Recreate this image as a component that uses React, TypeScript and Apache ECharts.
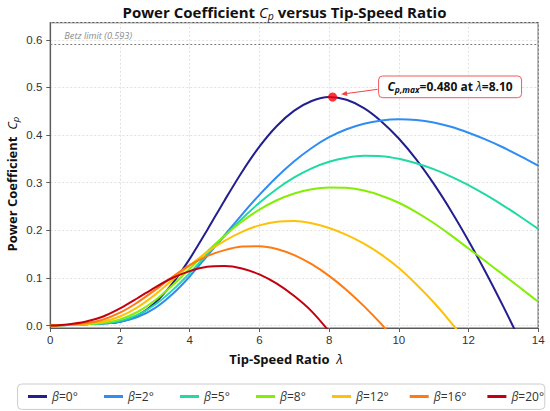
import React, { useEffect, useRef } from "react";
import * as echarts from "echarts";

// ---------------- data ----------------
const lambdas = [0, 0.5, 1, 1.5, 2, 2.5, 3, 3.5, 4, 4.5, 5, 5.5, 6, 6.5, 7, 7.5, 8, 8.5, 9, 9.5, 10, 10.5, 11, 11.5, 12, 12.5, 13, 13.5, 14];
const betas = [0, 2, 5, 8, 12, 16, 20];

const cpBeta0 = [0, 0.0014, 0.0028, 0.0043, 0.0081, 0.0211, 0.0475, 0.0882, 0.1402, 0.2003, 0.2629, 0.3227, 0.3757, 0.4191, 0.4513, 0.4715, 0.4799, 0.4741, 0.4566, 0.4287, 0.3928, 0.349, 0.298, 0.2408, 0.1782, 0.111, 0.0398, -0.0346, null];
const cpBeta2 = [0, 0.0014, 0.0028, 0.0043, 0.0082, 0.0178, 0.0366, 0.0658, 0.1032, 0.1462, 0.1897, 0.2332, 0.2745, 0.3121, 0.3451, 0.373, 0.3956, 0.4123, 0.424, 0.4308, 0.4333, 0.4318, 0.4265, 0.4175, 0.405, 0.3905, 0.374, 0.3555, 0.336];
const cpBeta5 = [0, 0.0014, 0.0028, 0.0046, 0.01, 0.0223, 0.0437, 0.074, 0.1103, 0.1499, 0.188, 0.2245, 0.2579, 0.2869, 0.3111, 0.3302, 0.344, 0.3525, 0.3565, 0.3558, 0.3503, 0.341, 0.3285, 0.313, 0.295, 0.2743, 0.252, 0.2281, 0.203];
const cpBeta8 = [0, 0.0014, 0.0029, 0.0055, 0.0131, 0.0286, 0.0527, 0.0842, 0.1194, 0.1558, 0.1887, 0.2185, 0.2435, 0.2632, 0.2775, 0.2865, 0.2902, 0.2893, 0.2835, 0.2728, 0.258, 0.2385, 0.2155, 0.1895, 0.162, 0.1345, 0.1065, 0.0785, 0.05];
const cpBeta12 = [0, 0.0014, 0.0034, 0.008, 0.0192, 0.0384, 0.0646, 0.0955, 0.1262, 0.1545, 0.178, 0.197, 0.2105, 0.218, 0.2195, 0.2148, 0.205, 0.1905, 0.172, 0.149, 0.121, 0.087, 0.049, 0.0065, -0.04, null, null, null, null];
const cpBeta16 = [0, 0.0016, 0.0048, 0.0124, 0.0272, 0.0486, 0.0745, 0.1021, 0.127, 0.146, 0.1585, 0.166, 0.1668, 0.161, 0.148, 0.129, 0.1045, 0.075, 0.041, 0.003, -0.04, null, null, null, null, null, null, null, null];
const cpBeta20 = [0, 0.0025, 0.008, 0.0185, 0.036, 0.0575, 0.08, 0.1, 0.1145, 0.1235, 0.125, 0.12, 0.1075, 0.088, 0.062, 0.03, -0.012, null, null, null, null, null, null, null, null, null, null, null, null];

const cpSeries = [cpBeta0, cpBeta2, cpBeta5, cpBeta8, cpBeta12, cpBeta16, cpBeta20];
const colors = ["#241f8e", "#2f8cf4", "#1fdaa2", "#84ee05", "#ffc107", "#ff7a10", "#c3000f"];

const betzLimit = 0.593;
const cpMax = 0.48;
const lambdaOpt = 8.1;

const FONT = "'Open Sans', 'Noto Sans', sans-serif";
const TICK_FONT = "'Liberation Sans', Arial, sans-serif";

export default function App() {
  const ref = useRef<HTMLDivElement>(null);

  useEffect(() => {
    if (!ref.current) return;
    const chart = echarts.init(ref.current, null, { renderer: "svg" });

    const series: any[] = cpSeries.map((vals, i) => ({
      name: `β=${betas[i]}°`,
      type: "line",
      data: lambdas
        .map((l, j) => [l, vals[j]])
        .filter((d) => d[1] !== null),
      smooth: 0.3,
      showSymbol: false,
      symbol: "none",
      clip: true,
      lineStyle: { width: 2, color: colors[i] },
      itemStyle: { color: colors[i] },
      z: 3 + i,
    }));

    series[0].markLine = {
      silent: true,
      symbol: ["none", "none"],
      label: { show: false },
      lineStyle: { color: "#7a7a7a", type: [2, 2], width: 1.1 },
      data: [{ yAxis: betzLimit }],
    };

    series.push({
      name: "peak",
      type: "scatter",
      data: [[lambdaOpt, cpMax]],
      symbolSize: 9,
      itemStyle: { color: "#ff0000" },
      z: 20,
    });

    const axisLineStyle = { color: "#5a5a5a", width: 1.2 };
    const splitLineStyle = { color: "#d9d9d9", type: [2, 2], width: 0.8 };

    chart.setOption({
      animation: false,
      backgroundColor: "#ffffff",
      grid: {
        left: 50.3,
        right: 11.8,
        top: 22.7,
        bottom: 83,
        show: true,
        borderColor: "#5a5a5a",
        borderWidth: 1.2,
      },
      xAxis: {
        type: "value",
        min: 0,
        max: 14,
        interval: 2,
        axisLine: { show: true, onZero: false, lineStyle: axisLineStyle },
        axisTick: { show: true, length: 4, lineStyle: { color: "#5a5a5a" } },
        axisLabel: { color: "#333", fontSize: 11.5, fontFamily: TICK_FONT, margin: 6 },
        splitLine: { show: true, lineStyle: splitLineStyle },
      },
      yAxis: {
        type: "value",
        min: -0.005,
        max: 0.636,
        splitNumber: 5,
        axisLine: { show: true, onZero: false, lineStyle: axisLineStyle },
        axisTick: { show: true, length: 4, lineStyle: { color: "#5a5a5a" } },
        axisLabel: {
          color: "#333",
          fontSize: 11.5,
          fontFamily: TICK_FONT,
          margin: 8,
          showMinLabel: false,
          showMaxLabel: false,
          formatter: (v: number) => v.toFixed(1),
        },
        splitLine: { show: true, lineStyle: splitLineStyle },
      },
      legend: {
        data: betas.map((b) => `β=${b}°`),
        left: 28,
        top: 389,
        z: 10,
        orient: "horizontal",
        icon: "rect",
        itemWidth: 19,
        itemHeight: 3,
        itemGap: 21,
        selectedMode: false,
        padding: 0,
        formatter: (name: string) => `{i|β}{n|${name.slice(1)}}`,
        textStyle: {
          width: 31,
          lineHeight: 15,
          fontSize: 12,
          color: "#333",
          fontFamily: FONT,
          rich: {
            i: { fontStyle: "italic", fontSize: 12, fontFamily: FONT, color: "#333" },
            n: { fontSize: 12, fontFamily: FONT, color: "#333" },
          },
        },
      },
      series,
    });

    const p = chart.convertToPixel({ gridIndex: 0 }, [lambdaOpt, cpMax]) as number[];
    const bz = chart.convertToPixel({ gridIndex: 0 }, [0, betzLimit]) as number[];

    const s = [p[0] + 45, p[1] - 7.7];
    const t = [p[0] + 8.5, p[1] - 2.7];
    const dx = t[0] - s[0];
    const dy = t[1] - s[1];
    const len = Math.sqrt(dx * dx + dy * dy);
    const ux = dx / len;
    const uy = dy / len;
    const hl = 6;
    const hw = 2.6;
    const base = [t[0] - ux * hl, t[1] - uy * hl];
    const arrowColor = "#f04444";

    const boxX = p[0] + 46;
    const boxY = p[1] - 21;
    const boxW = 143;
    const boxH = 21.7;

    const bold = (size: number, extra: any = {}) => ({
      fontFamily: FONT,
      fontWeight: "bold",
      fontSize: size,
      fill: "#111",
      ...extra,
    });

    chart.setOption({
      graphic: [
        {
          type: "rect",
          z: -1,
          silent: true,
          shape: { x: 17.6, y: 384, width: 527.2, height: 25.4, r: 4 },
          style: { fill: "none", stroke: "#cccccc", lineWidth: 1 },
        },
        {
          type: "text",
          x: 284.5,
          y: 12,
          z: 50,
          style: {
            text: "{b|Power Coefficient }{c|C}{s|p}{b| versus Tip-Speed Ratio}",
            align: "center",
            verticalAlign: "middle",
            rich: {
              b: bold(15, { lineHeight: 18 }),
              c: { fontFamily: FONT, fontStyle: "italic", fontSize: 15, fill: "#111", lineHeight: 18 },
              s: { fontFamily: FONT, fontStyle: "italic", fontSize: 10.5, fill: "#111", lineHeight: 10, verticalAlign: "bottom" },
            },
          },
        },
        {
          type: "text",
          x: 12,
          y: 184,
          rotation: Math.PI / 2,
          z: 50,
          style: {
            text: "{b|Power Coefficient  }{c|C}{s|p}",
            align: "center",
            verticalAlign: "middle",
            rich: {
              b: bold(13, { lineHeight: 16 }),
              c: { fontFamily: FONT, fontStyle: "italic", fontSize: 13, fill: "#111", lineHeight: 16 },
              s: { fontFamily: FONT, fontStyle: "italic", fontSize: 9.5, fill: "#111", lineHeight: 9, verticalAlign: "bottom" },
            },
          },
        },
        {
          type: "text",
          x: 286,
          y: 359,
          z: 50,
          style: {
            text: "{b|Tip-Speed Ratio  }{l|λ}",
            align: "center",
            verticalAlign: "middle",
            rich: {
              b: bold(13, { lineHeight: 16 }),
              l: { fontFamily: FONT, fontStyle: "italic", fontSize: 13, fill: "#111", lineHeight: 16 },
            },
          },
        },
        {
          type: "text",
          x: bz[0] + 14,
          y: bz[1] - 7.8,
          z: 50,
          style: {
            text: `Betz limit (${betzLimit.toFixed(3)})`,
            fontFamily: FONT,
            fontStyle: "italic",
            fontSize: 9.2,
            fill: "#8a8a8a",
            align: "left",
            verticalAlign: "middle",
          },
        },
        {
          type: "line",
          z: 40,
          shape: { x1: s[0], y1: s[1], x2: base[0], y2: base[1] },
          style: { stroke: arrowColor, lineWidth: 1 },
        },
        {
          type: "polygon",
          z: 40,
          shape: {
            points: [
              [t[0], t[1]],
              [base[0] - uy * hw, base[1] + ux * hw],
              [base[0] + uy * hw, base[1] - ux * hw],
            ],
          },
          style: { fill: arrowColor },
        },
        {
          type: "rect",
          z: 41,
          shape: { x: boxX, y: boxY, width: boxW, height: boxH, r: 4 },
          style: { fill: "#ffffff", stroke: "#f05a5a", lineWidth: 1 },
        },
        {
          type: "text",
          z: 42,
          x: boxX + boxW / 2,
          y: boxY + boxH / 2,
          style: {
            text: `{c|C}{s|p,max}{b|=${cpMax.toFixed(3)} at }{l|λ}{b|=${lambdaOpt.toFixed(2)}}`,
            align: "center",
            verticalAlign: "middle",
            rich: {
              b: bold(12, { lineHeight: 14 }),
              c: bold(12, { fontStyle: "italic", lineHeight: 14 }),
              s: { fontFamily: FONT, fontStyle: "italic", fontWeight: "bold", fontSize: 8.5, fill: "#111", lineHeight: 8, verticalAlign: "bottom" },
              l: { fontFamily: FONT, fontStyle: "italic", fontSize: 12, fill: "#111", lineHeight: 14 },
            },
          },
        },
      ],
    });

    return () => {
      chart.dispose();
    };
  }, []);

  return (
    <div
      ref={ref}
      style={{ position: "fixed", left: 0, top: 0, width: 550, height: 411, background: "#ffffff" }}
    />
  );
}
